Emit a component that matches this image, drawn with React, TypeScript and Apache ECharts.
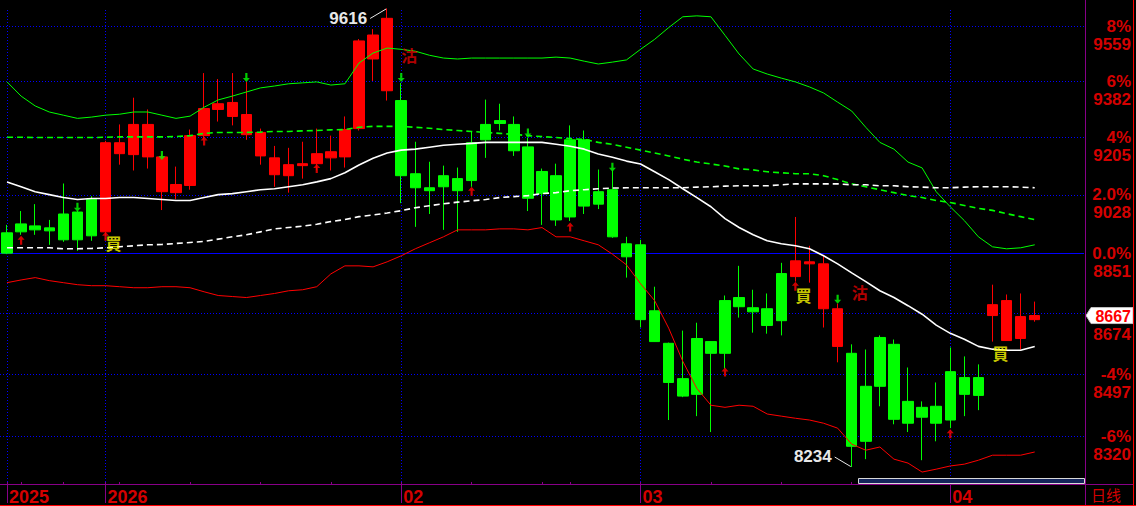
import { useEffect, useRef } from 'react';
import * as echarts from 'echarts';

// ---------- data ----------
const dates = [
  '2025-12-19', '2025-12-22', '2025-12-23', '2025-12-24', '2025-12-29', '2025-12-30', '2025-12-31',
  '2026-01-02', '2026-01-05', '2026-01-06', '2026-01-07', '2026-01-08', '2026-01-09',
  '2026-01-12', '2026-01-13', '2026-01-14', '2026-01-15', '2026-01-16',
  '2026-01-19', '2026-01-20', '2026-01-21', '2026-01-22', '2026-01-23',
  '2026-01-26', '2026-01-27', '2026-01-28', '2026-01-29', '2026-01-30',
  '2026-02-02', '2026-02-03', '2026-02-04', '2026-02-05', '2026-02-06',
  '2026-02-09', '2026-02-10', '2026-02-11', '2026-02-12', '2026-02-13',
  '2026-02-16', '2026-02-20',
  '2026-02-23', '2026-02-24', '2026-02-25', '2026-02-26', '2026-02-27',
  '2026-03-02', '2026-03-03', '2026-03-04', '2026-03-05', '2026-03-06',
  '2026-03-09', '2026-03-10', '2026-03-11', '2026-03-12', '2026-03-13',
  '2026-03-16', '2026-03-17', '2026-03-18', '2026-03-19', '2026-03-20',
  '2026-03-23', '2026-03-24', '2026-03-25', '2026-03-26', '2026-03-27',
  '2026-03-30', '2026-03-31', '2026-04-01', '2026-04-02', '2026-04-03',
  '2026-04-08', '2026-04-09', '2026-04-10', '2026-04-13',
];
const emptySlots = ['pad-1', 'pad-2', 'pad-3'];

const opens = [8913, 8940, 8934, 8928, 8970, 8976, 9015, 8916, 9155, 9152,
  9145, 9038, 9035, 9057, 9211, 9293, 9271, 9214, 9148, 9090,
  9087, 9118, 9124, 9142, 9145, 9233, 9453, 9352, 9321, 9093,
  9050, 9087, 9078, 9189, 9246, 9258, 9246, 9176, 9100, 9087,
  9198, 9198, 9038, 9044, 8880, 8877, 8681, 8586, 8484, 8600,
  8591, 8711, 8720, 8690, 8687, 8791, 8782, 8820, 8687, 8577,
  8557, 8462, 8603, 8583, 8419, 8402, 8405, 8504, 8487, 8487,
  8667, 8594, 8600, 8655];
const closes = [8852, 8916, 8922, 8919, 8892, 8892, 8904, 9189, 9189, 9246,
  9246, 9145, 9060, 9211, 9296, 9311, 9315, 9277, 9221, 9142,
  9121, 9124, 9155, 9161, 9230, 9511, 9530, 9584, 9087, 9050,
  9041, 9053, 9041, 9072, 9198, 9249, 9164, 9018, 9032, 8952,
  8961, 8994, 9000, 8901, 8841, 8655, 8591, 8473, 8434, 8439,
  8557, 8557, 8693, 8678, 8638, 8652, 8829, 8826, 8820, 8687,
  8292, 8306, 8462, 8368, 8357, 8374, 8357, 8366, 8439, 8436,
  8699, 8711, 8664, 8667];
const lows = [8849, 8907, 8907, 8877, 8886, 8859, 8889, 8907, 9121, 9103,
  9109, 8982, 9015, 9044, 9199, 9255, 9243, 9198, 9121, 9053,
  9035, 9078, 9103, 9103, 9112, 9227, 9383, 9321, 9003, 8931,
  8970, 8922, 8916, 9053, 9142, 9227, 9148, 8979, 8937, 8934,
  8949, 8970, 8985, 8898, 8779, 8632, 8590, 8366, 8431, 8377,
  8332, 8513, 8661, 8617, 8614, 8609, 8767, 8764, 8632, 8531,
  8234, 8256, 8405, 8354, 8332, 8253, 8306, 8343, 8377, 8394,
  8591, 8593, 8568, 8649];
const highs = [8937, 8979, 9000, 8952, 9063, 8979, 9024, 9195, 9246, 9330,
  9293, 9152, 9115, 9230, 9408, 9389, 9408, 9380, 9233, 9179,
  9173, 9192, 9233, 9211, 9271, 9517, 9549, 9616, 9377, 9192,
  9130, 9118, 9112, 9224, 9324, 9311, 9271, 9205, 9109, 9124,
  9243, 9227, 9106, 9103, 8901, 8892, 8752, 8588, 8623, 8646,
  8592, 8726, 8814, 8743, 8732, 8823, 8961, 8874, 8847, 8702,
  8583, 8568, 8609, 8597, 8516, 8419, 8473, 8574, 8548, 8525,
  8758, 8729, 8732, 8708];

const upperBand = [9380, 9335, 9304, 9285, 9275, 9265, 9269, 9275, 9278, 9285,
  9285, 9275, 9265, 9272, 9300, 9323, 9335, 9348, 9361, 9367,
  9374, 9377, 9380, 9370, 9374, 9440, 9472, 9488, 9484, 9478,
  9465, 9456, 9453, 9456, 9456, 9456, 9456, 9456, 9456, 9459,
  9456, 9446, 9437, 9443, 9450, 9484, 9516, 9554, 9589, 9592,
  9589, 9529, 9469, 9421, 9405, 9392, 9380, 9364, 9345, 9316,
  9288, 9237, 9190, 9169, 9129, 9111, 9038, 8992, 8950, 8901,
  8871, 8865, 8868, 8877];
const greenDashed = [9206, 9206, 9205, 9205, 9205, 9205, 9205, 9206, 9207, 9207,
  9207, 9207, 9208, 9211, 9218, 9221, 9221, 9221, 9222, 9224,
  9224, 9226, 9227, 9229, 9230, 9237, 9240, 9240, 9240, 9237,
  9234, 9230, 9227, 9224, 9221, 9218, 9215, 9211, 9208, 9205,
  9202, 9199, 9190, 9184, 9175, 9166, 9157, 9148, 9138, 9129,
  9123, 9117, 9108, 9105, 9099, 9096, 9093, 9093, 9087, 9075,
  9062, 9053, 9044, 9035, 9026, 9020, 9011, 9005, 8996, 8987,
  8981, 8971, 8962, 8953];
const whiteSolid = [9068, 9053, 9038, 9029, 9020, 9014, 9017, 9017, 9020, 9020,
  9017, 9014, 9011, 9011, 9020, 9029, 9032, 9038, 9044, 9047,
  9053, 9059, 9068, 9078, 9096, 9120, 9141, 9157, 9166, 9169,
  9175, 9181, 9184, 9187, 9190, 9190, 9190, 9190, 9190, 9184,
  9178, 9169, 9154, 9144, 9132, 9123, 9099, 9075, 9047, 9020,
  8992, 8956, 8929, 8907, 8889, 8880, 8874, 8865, 8844, 8820,
  8793, 8767, 8740, 8720, 8696, 8671, 8639, 8615, 8598, 8577,
  8569, 8566, 8566, 8577];
const whiteDashed = [8868, 8868, 8868, 8868, 8865, 8865, 8866, 8868, 8871, 8874,
  8877, 8878, 8881, 8884, 8887, 8894, 8901, 8907, 8916, 8925,
  8929, 8933, 8939, 8947, 8953, 8962, 8967, 8973, 8980, 8989,
  8995, 9001, 9006, 9010, 9014, 9020, 9023, 9026, 9032, 9035,
  9041, 9044, 9047, 9049, 9050, 9050, 9050, 9050, 9050, 9052,
  9053, 9055, 9056, 9056, 9056, 9059, 9062, 9062, 9062, 9062,
  9059, 9059, 9056, 9056, 9053, 9052, 9050, 9050, 9052, 9053,
  9053, 9053, 9052, 9050];
const lowerBand = [8764, 8772, 8779, 8770, 8764, 8758, 8755, 8755, 8752, 8749,
  8749, 8752, 8752, 8749, 8737, 8726, 8723, 8720, 8726, 8732,
  8740, 8743, 8752, 8790, 8814, 8814, 8811, 8826, 8844, 8865,
  8883, 8901, 8922, 8922, 8922, 8925, 8925, 8922, 8929, 8901,
  8901, 8889, 8877, 8849, 8817, 8761, 8711, 8630, 8534, 8456,
  8408, 8402, 8408, 8405, 8383, 8377, 8371, 8366, 8357, 8343,
  8298, 8281, 8290, 8256, 8245, 8220, 8228, 8237, 8242, 8253,
  8267, 8267, 8267, 8276];

// signals: [candle index, price]
const upArrows = [[1, 8904], [7, 8916], [14, 9208], [22, 9123], [33, 9053], [40, 8944], [51, 8516], [56, 8767], [67, 8340]];
const downArrows = [[5, 8977], [11, 9135], [17, 9380], [28, 9380], [37, 9205], [43, 9099], [59, 8702]];
const buyMarks = [[7, 8881], [56, 8727], [70, 8559]];
const sellMarks = [[28, 9467], [60, 8736]];
const extremes = [[27, 9616, 1], [60, 8234, -1]];
const lastPrice = [[73, 8667]];

// right-hand scale (the -2% label is hidden behind the last-price tag in the reference)
const levelPrices = [9559, 9382, 9205, 9028, 8851, 8674, 8497, 8320];
const levelPcts = ['8%', '6%', '4%', '2.0%', '0.0%', '', '-4%', '-6%'];

// ---------- helpers ----------
const RED_TXT = '#d40000';
const PURPLE = '#880088';
const BLUE = '#0000ff';
const NUM_FONT = 'Liberation Sans';

const dayNum = (s: string) => {
  const [y, m, d] = s.split('-').map(Number);
  return Date.UTC(y, m - 1, d) / 86400000;
};
const monthStart = dates.map((d, i) => i === 0 || d.slice(0, 7) !== dates[i - 1].slice(0, 7));
const weekStart = dates.map((d, i) => i === 0 || Math.floor((dayNum(d) + 3) / 7) !== Math.floor((dayNum(dates[i - 1]) + 3) / 7));
const labelOf = (i: number) => {
  const d = dates[i];
  if (i === 0 || d.slice(0, 4) !== dates[i - 1].slice(0, 4)) return d.slice(0, 4);
  return d.slice(5, 7);
};
const monthIdx = dates.map((_, i) => i).filter((i) => monthStart[i]);

function buildOption(): any {
  const cats = [...dates, ...emptySlots];
  const candle = opens.map((o, i) => [o, closes[i], lows[i], highs[i]]);
  const numRich = {
    fontSize: 17, fontWeight: 'bold', fontFamily: NUM_FONT, color: RED_TXT,
    width: 42, align: 'right', lineHeight: 18,
  };
  const hLines = levelPrices.map((p, i) => ({
    yAxis: p,
    lineStyle: p === 8851 ? { color: BLUE, type: 'solid', width: 1 } : { color: BLUE, type: [1, 2], width: 1 },
    label: levelPcts[i]
      ? {
        show: true, position: 'end', distance: 5, padding: [18, 0, 0, 0],
        formatter: `{p|${levelPcts[i]}}\n{v|${p}}`,
        rich: { p: numRich, v: numRich },
      }
      : {
        show: true, position: 'end', distance: 5, padding: [43, 0, 0, 0],
        formatter: `{v|${p}}`,
        rich: { v: { ...numRich, lineHeight: 15 } },
      },
  }));
  const vLines = monthIdx.map((i) => ({
    xAxis: i,
    lineStyle: { color: BLUE, type: [1, 2], width: 1 },
    label: { show: false },
  }));

  return {
    animation: false,
    backgroundColor: '#000',
    grid: { left: 0, top: 8, width: 1084, height: 476, containLabel: false },
    xAxis: [
      {
        type: 'category', data: cats, boundaryGap: true, position: 'bottom',
        axisLine: { show: false },
        axisTick: { show: true, alignWithLabel: true, interval: (i: number) => !!monthStart[i], length: 21, lineStyle: { color: PURPLE } },
        axisLabel: {
          show: true, interval: (i: number) => !!monthStart[i], formatter: (_v: string, i: number) => labelOf(i),
          align: 'left', margin: 6, padding: [0, 0, 0, 2], color: RED_TXT, fontSize: 18, fontWeight: 'bold', fontFamily: NUM_FONT,
        },
        splitLine: { show: false },
      },
      {
        type: 'category', data: cats, boundaryGap: true, position: 'bottom',
        axisLine: { show: false },
        axisTick: { show: true, alignWithLabel: true, interval: (i: number) => !!weekStart[i], length: 3, lineStyle: { color: PURPLE } },
        axisLabel: { show: false },
        splitLine: { show: false },
      },
    ],
    yAxis: {
      type: 'log', logBase: 10, min: 8192.4, max: 9617.5, position: 'right',
      axisLine: { show: false }, axisTick: { show: false }, axisLabel: { show: false }, splitLine: { show: false },
    },
    series: [
      {
        type: 'candlestick', data: candle, barWidth: 11, z: 2,
        itemStyle: { color: '#ff0000', color0: '#00ff00', borderColor: '#ff0000', borderColor0: '#00ff00', borderWidth: 1 },
        markLine: { silent: true, symbol: ['none', 'none'], z: 1, animation: false, data: [...hLines, ...vLines] },
      },
      { type: 'line', data: upperBand, symbol: 'none', z: 3, lineStyle: { color: '#00ff00', width: 1 } },
      { type: 'line', data: greenDashed, symbol: 'none', z: 3, lineStyle: { color: '#00ff00', width: 1.6, type: [6, 4] } },
      { type: 'line', data: whiteSolid, symbol: 'none', z: 3, lineStyle: { color: '#ffffff', width: 1.6 } },
      { type: 'line', data: whiteDashed, symbol: 'none', z: 3, lineStyle: { color: '#ffffff', width: 1.6, type: [6, 4] } },
      { type: 'line', data: lowerBand, symbol: 'none', z: 3, lineStyle: { color: '#ff0000', width: 1 } },
      {
        type: 'scatter', data: upArrows, z: 4, silent: true,
        symbol: 'path://M3.5,0L7,4L4.6,4L4.6,9L2.4,9L2.4,4L0,4Z', symbolSize: [7, 9], symbolOffset: [0, 4.5],
        itemStyle: { color: '#ff0000' },
      },
      {
        type: 'scatter', data: downArrows, z: 4, silent: true,
        symbol: 'path://M2.4,0L4.6,0L4.6,5L7,5L3.5,9L0,5L2.4,5Z', symbolSize: [7, 9], symbolOffset: [0, -4.5],
        itemStyle: { color: '#00ff00' },
      },
      {
        type: 'scatter', data: buyMarks, z: 4, silent: true, symbolSize: 1, itemStyle: { color: 'rgba(0,0,0,0)' },
        label: { show: true, position: 'inside', offset: [8, 0], formatter: '買', color: '#ffff00', fontSize: 16, fontWeight: 'bold', fontFamily: 'Noto Sans CJK TC' },
      },
      {
        type: 'scatter', data: sellMarks, z: 4, silent: true, symbolSize: 1, itemStyle: { color: 'rgba(0,0,0,0)' },
        label: { show: true, position: 'inside', offset: [8, 0], formatter: '沽', color: '#e00000', fontSize: 16, fontWeight: 'bold', fontFamily: 'Noto Sans CJK TC' },
      },
      {
        type: 'custom', data: extremes, z: 4, silent: true, clip: false,
        renderItem: (_p: any, api: any) => {
          const v = api.value(1);
          const d = api.value(2);
          const pt = api.coord([api.value(0), v]);
          return {
            type: 'group',
            children: [
              { type: 'line', shape: { x1: pt[0] - 1, y1: pt[1] + d * 0.5, x2: pt[0] - 17, y2: pt[1] + d * 10 }, style: { stroke: '#e8e8e8', lineWidth: 1 } },
              {
                type: 'text',
                style: {
                  text: String(v), x: pt[0] - 20, y: pt[1] + d * 10.5,
                  align: 'right', textAlign: 'right', verticalAlign: 'middle', textVerticalAlign: 'middle',
                  fill: '#e8e8e8', font: `bold 17px "${NUM_FONT}"`,
                },
              },
            ],
          };
        },
      },
      {
        type: 'custom', data: lastPrice, z: 6, silent: true, clip: false,
        renderItem: (params: any, api: any) => {
          const v = api.value(1);
          const pt = api.coord([api.value(0), v]);
          const x0 = params.coordSys.x + params.coordSys.width;
          const y = pt[1];
          return {
            type: 'group',
            children: [
              {
                type: 'polygon',
                shape: { points: [[x0 + 2, y], [x0 + 7, y - 8], [x0 + 49, y - 8], [x0 + 49, y + 8], [x0 + 7, y + 8]] },
                style: { fill: '#ffffff', stroke: '#c0c0c0', lineWidth: 1 },
              },
              {
                type: 'text',
                style: {
                  text: String(v), x: x0 + 47, y: y + 0.5,
                  align: 'right', textAlign: 'right', verticalAlign: 'middle', textVerticalAlign: 'middle',
                  fill: '#ff0000', font: `bold 16px "${NUM_FONT}"`,
                },
              },
            ],
          };
        },
      },
    ],
    graphic: [
      { type: 'rect', silent: true, z: 9, shape: { x: 858.5, y: 478.5, width: 226, height: 5 }, style: { fill: '#14245a', stroke: '#d8d8d8', lineWidth: 1 } },
      { type: 'line', silent: true, z: 10, shape: { x1: 0, y1: 484.5, x2: 1133, y2: 484.5 }, style: { stroke: PURPLE, lineWidth: 1 } },
      { type: 'line', silent: true, z: 10, shape: { x1: 1085.5, y1: 0, x2: 1085.5, y2: 506 }, style: { stroke: PURPLE, lineWidth: 1 } },
      { type: 'line', silent: true, z: 10, shape: { x1: 1133.5, y1: 0, x2: 1133.5, y2: 506 }, style: { stroke: '#ff0000', lineWidth: 1 } },
      { type: 'line', silent: true, z: 10, shape: { x1: 0, y1: 505.5, x2: 1136, y2: 505.5 }, style: { stroke: '#ff0000', lineWidth: 1 } },
      {
        type: 'text', silent: true, z: 10, x: 1091, y: 494,
        style: { text: '日线', fill: RED_TXT, font: '15px "Noto Sans CJK SC"', verticalAlign: 'middle', textVerticalAlign: 'middle' },
      },
    ],
  };
}

export default function App() {
  const ref = useRef<HTMLDivElement>(null);
  useEffect(() => {
    document.body.style.margin = '0';
    document.body.style.background = '#000';
    const chart = echarts.init(ref.current as HTMLDivElement, null, { renderer: 'svg' });
    chart.setOption(buildOption());
    return () => chart.dispose();
  }, []);
  return (
    <div style={{ position: 'fixed', left: 0, top: 0, width: 1136, height: 506, background: '#000' }}>
      <div ref={ref} style={{ width: 1136, height: 506 }} />
    </div>
  );
}
